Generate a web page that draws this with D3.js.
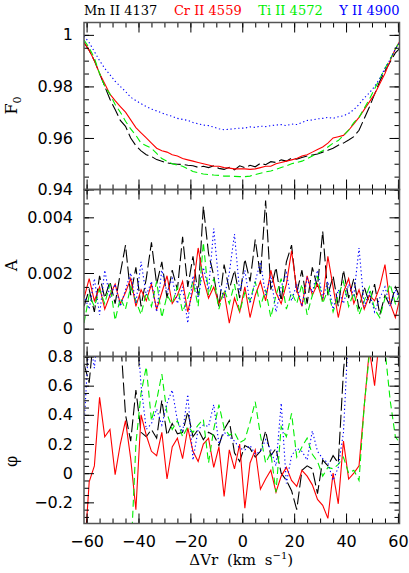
<!DOCTYPE html>
<html>
<head>
<meta charset="utf-8">
<script src="https://cdn.jsdelivr.net/npm/d3@7"></script>
<style>
    body { margin: 0; background: #fff; }
    text { fill: #000; }
</style>
</head>
<body>
<svg id="chart" width="409" height="573"></svg>
<script>
// velocity grid (km/s)
var velocity = [-61, -59, -57, -55, -53, -51, -49, -47, -45, -43, -41, -39, -37, -35, -33, -31, -29, -27, -25, -23,
    -21, -19, -17, -15, -13, -11, -9, -7, -5, -3, -1, 1, 3, 5, 7, 9, 11, 13, 15, 17,
    19, 21, 23, 25, 27, 29, 31, 33, 35, 37, 39, 41, 43, 45, 47, 49, 51, 53, 55, 57, 59, 61];

var lineNames = ["Mn II 4137", "Cr II 4559", "Ti II 4572", "Y II 4900"];

// F0 panel
var f0Mn = [0.997, 0.994, 0.990, 0.985, 0.980, 0.975, 0.971, 0.9668, 0.9645, 0.960,
    0.957, 0.955, 0.9535, 0.9528, 0.9516, 0.951, 0.9503, 0.950, 0.9498, 0.9497,
    0.9494, 0.9492, 0.9486, 0.949, 0.9485, 0.9492, 0.9482, 0.9478, 0.9486, 0.9476,
    0.9492, 0.9485, 0.9494, 0.9488, 0.9502, 0.9496, 0.9508, 0.9505, 0.9515, 0.951,
    0.9522, 0.9518, 0.9524, 0.953, 0.9534, 0.9538, 0.9545, 0.9552, 0.956, 0.9572,
    0.958, 0.9592, 0.9605, 0.963, 0.9675, 0.972, 0.977, 0.982, 0.986, 0.9895,
    0.993, 0.995];
var f0Cr = [0.997, 0.994, 0.990, 0.985, 0.981, 0.977, 0.9745, 0.9722, 0.970, 0.967,
    0.964, 0.962, 0.960, 0.958, 0.956, 0.955, 0.9545, 0.9535, 0.953, 0.952,
    0.9515, 0.951, 0.9505, 0.950, 0.9495, 0.949, 0.949, 0.9485, 0.9483, 0.948,
    0.948, 0.948, 0.9478, 0.948, 0.9485, 0.949, 0.949, 0.950, 0.9505, 0.951,
    0.9515, 0.952, 0.953, 0.9535, 0.9545, 0.9555, 0.9565, 0.958, 0.960, 0.9605,
    0.961, 0.963, 0.9655, 0.968, 0.971, 0.974, 0.977, 0.981, 0.985, 0.990,
    0.9945, 0.998];
var f0Ti = [0.998, 0.995, 0.991, 0.985, 0.980, 0.977, 0.973, 0.970, 0.9665, 0.9635,
    0.961, 0.958, 0.957, 0.956, 0.954, 0.952, 0.951, 0.950, 0.9495, 0.949,
    0.948, 0.947, 0.9465, 0.946, 0.9458, 0.9456, 0.9455, 0.9452, 0.9452, 0.9451,
    0.945, 0.945, 0.9452, 0.9458, 0.9463, 0.9468, 0.9472, 0.9478, 0.9485, 0.9492,
    0.950, 0.9505, 0.951, 0.952, 0.953, 0.954, 0.955, 0.9565, 0.958, 0.959,
    0.961, 0.963, 0.966, 0.968, 0.9715, 0.975, 0.979, 0.983, 0.987, 0.9905,
    0.9945, 0.998];
var f0Y = [0.9995, 0.997, 0.9935, 0.990, 0.987, 0.9845, 0.982, 0.980, 0.978, 0.9758,
    0.9745, 0.9733, 0.9722, 0.9712, 0.9705, 0.9697, 0.969, 0.9684, 0.9676, 0.9672,
    0.9668, 0.966, 0.9655, 0.965, 0.9648, 0.9642, 0.9636, 0.9632, 0.9634, 0.9636,
    0.9638, 0.9638, 0.9643, 0.9641, 0.9646, 0.9644, 0.9648, 0.965, 0.9652, 0.9648,
    0.9654, 0.9652, 0.966, 0.9668, 0.967, 0.9674, 0.9676, 0.968, 0.9676, 0.9682,
    0.9686, 0.9695, 0.971, 0.973, 0.9755, 0.9775, 0.980, 0.983, 0.987, 0.9905,
    0.9945, 0.9975];

// A panel
var ampMn = [0.0008, 0.0014, 0.0006, 0.0019, 0.0011, 0.0017, 0.0009, 0.0020, 0.0030, 0.0012,
    0.0022, 0.0008, 0.0018, 0.0031, 0.0016, 0.0024, 0.0011, 0.0021, 0.0014, 0.0033,
    0.0015, 0.0026, 0.0012, 0.0044, 0.0027, 0.0019, 0.0008, 0.0023, 0.0014, 0.0021,
    0.0011, 0.0025, 0.0017, 0.0032, 0.0019, 0.0046, 0.0014, 0.0022, 0.0010, 0.0024,
    0.0030, 0.0013, 0.0021, 0.0009, 0.0022, 0.0015, 0.0035, 0.0012, 0.0019, 0.0008,
    0.0021, 0.0011, 0.0018, 0.0007, 0.0015, 0.0009, 0.0016, 0.0005, 0.0012, 0.0008,
    0.0015, 0.0011];
var ampCr = [0.0011, 0.0018, 0.0010, 0.0015, 0.0007, 0.0012, 0.0016, 0.0009, 0.0013, 0.0018,
    0.0008, 0.0014, 0.0010, 0.0016, 0.0007, 0.0013, 0.0019, 0.0009, 0.0012, 0.0017,
    0.0006, 0.0014, 0.0029, 0.0018, 0.0011, 0.0015, 0.0009, 0.0013, 0.0002, 0.0011,
    0.0006, 0.0015, 0.0004, 0.0012, 0.0017, 0.0010, 0.0021, 0.0013, 0.0009, 0.0016,
    0.0028, 0.0014, 0.0008, 0.0019, 0.0012, 0.0016, 0.0010, 0.0026, 0.0015, 0.0004,
    0.0013, 0.0018, 0.0009, 0.0014, 0.0007, 0.0012, 0.0010, 0.0015, 0.0023, 0.0009,
    0.0004, 0.0012];
var ampTi = [0.0002, 0.0012, 0.0008, 0.0014, 0.0009, 0.0016, 0.0003, 0.0011, 0.0007, 0.0015,
    0.0010, 0.0005, 0.0013, 0.0008, 0.0017, 0.0004, 0.0012, 0.0009, 0.0015, 0.0006,
    0.0011, 0.0017, 0.0008, 0.0031, 0.0012, 0.0018, 0.0007, 0.0014, 0.0009, 0.0016,
    0.0006, 0.0013, 0.0010, 0.0017, 0.0008, 0.0014, 0.0004, 0.0012, 0.0018, 0.0007,
    0.0013, 0.0009, 0.0016, 0.0005, 0.0012, 0.0019, 0.0009, 0.0014, 0.0006, 0.0012,
    0.0017, 0.0008, 0.0013, 0.0005, 0.0010, 0.0015, 0.0007, 0.0004, 0.0011, 0.0016,
    0.0009, 0.0013];
var ampY = [0.0012, 0.0007, 0.0018, 0.0005, 0.0021, 0.0011, 0.0016, 0.0008, 0.0014, 0.0020,
    0.0009, 0.0024, 0.0012, 0.0017, 0.0006, 0.0021, 0.0013, 0.0018, 0.0009, 0.0015,
    0.0002, 0.0019, 0.0011, 0.0022, 0.0014, 0.0036, 0.0016, 0.0011, 0.0020, 0.0034,
    0.0013, 0.0021, 0.0009, 0.0017, 0.0024, 0.0012, 0.0019, 0.0006, 0.0015, 0.0020,
    0.0010, 0.0016, 0.0008, 0.0018, 0.0013, 0.0021, 0.0011, 0.0017, 0.0007, 0.0014,
    0.0009, 0.0016, 0.0012, 0.0029, 0.0008, 0.0013, 0.0006, 0.0011, 0.0015, 0.0008,
    0.0014, 0.0010];

// phi panel
var phiMn = [0.75, 0.62, 1.0, 1.0, 1.0, 1.0, 1.0, 0.95, 0.40, 0.22,
    0.57, 0.28, 0.25, 0.30, 0.24, 0.50, 0.26, 0.34, 0.27, 0.28,
    0.42, 0.25, 0.30, 0.23, 0.28, 0.26, 0.19, 0.30, 0.36, 0.14,
    0.08, 0.19, 0.17, 0.11, 0.15, 0.29, 0.12, 0.17, 0.00, -0.05,
    -0.12, -0.25, 0.02, 0.05, 0.03, -0.14, 0.09, 0.05, 0.12, 0.07,
    0.70, 1.1, 1.2, 1.2, 1.2, 1.2, 1.2, 1.2, 1.2, 1.2,
    1.2, 1.2];
var phiCr = [-0.6, -0.06, 0.05, 0.52, 0.25, 0.30, -0.01, 0.20, 0.36, 0.10,
    -0.25, 0.40, 0.26, 0.15, 0.12, 0.28, -0.04, 0.18, 0.24, 0.10,
    0.31, 0.15, 0.08, 0.20, 0.24, 0.04, 0.18, -0.16, 0.16, 0.03,
    0.20, -0.24, 0.07, 0.16, -0.11, -0.04, 0.02, -0.13, -0.02, 0.04,
    -0.05, -0.09, 0.02, -0.02, -0.08, -0.18, -0.22, -0.31, 0.00, -0.21,
    0.22, -0.04, 0.00, 0.05, 0.46, 0.85, 0.60, 0.95, 1.2, 1.3,
    1.4, 1.5];
var phiTi = [-1.0, -1.0, -1.0, -1.0, -1.0, -1.0, -1.0, -1.0, -1.0, -0.6,
    0.20, 0.55, 0.73, 0.36, 0.50, 0.68, 0.41, 0.30, 0.36, 0.25,
    0.32, 0.28, 0.33, 0.37, 0.07, 0.30, 0.47, 0.31, 0.26, 0.28,
    0.21, 0.23, 0.35, 0.49, 0.26, 0.07, 0.14, -0.13, 0.32, 0.25,
    0.41, 0.11, 0.18, 0.24, 0.13, 0.08, -0.02, 0.04, 0.03, 0.06,
    0.11, 0.00, 0.02, -0.05, 0.46, 0.82, 0.95, 0.90, 0.85, 0.50,
    0.25, 0.20];
var phiY = [0.32, 0.95, 0.72, 1.1, 1.1, 1.1, 1.1, 1.1, 1.1, 1.1,
    1.1, 0.60, 0.30, 0.34, 0.44, 0.33, 0.48, 0.57, 0.36, 0.28,
    0.54, 0.09, 0.30, 0.33, 0.32, 0.47, 0.20, 0.28, 0.25, 0.22,
    0.17, 0.16, 0.19, 0.13, 0.15, 0.23, 0.16, 0.05, 0.48, -0.07,
    0.12, 0.17, 0.15, 0.09, 0.29, 0.15, 0.10, 0.07, -0.05, 0.04,
    0.28, 1.0, 1.2, 1.2, 1.2, 1.2, 1.2, 1.2, 1.2, 1.2,
    1.2, 1.2];

// tick labels
var velTicks = [-60, -40, -20, 0, 20, 40, 60];
var f0Ticks = [0.94, 0.96, 0.98, 1];
var ampTicks = [0, 0.002, 0.004];
var phiTicks = [-0.2, 0, 0.2, 0.4, 0.6, 0.8];

(function () {
    var svg = d3.select("#chart");
    var margin = {left: 84, right: 9.5, top: 22.5, bottom: 49.5};
    var W = 409, H = 573;
    var plotW = W - margin.left - margin.right;
    var panelH = (H - margin.top - margin.bottom) / 3;

    var styles = [
        {color: "#000000", dash: "13,4"},
        {color: "#ff0000", dash: null},
        {color: "#00ee00", dash: "7,4"},
        {color: "#0000ff", dash: "1.3,2.6"}
    ];

    var x = d3.scaleLinear().domain([-61, 60.6]).range([0, plotW]);

    var panels = [
        {series: [f0Mn, f0Cr, f0Ti, f0Y], domain: [0.94, 1.0048], ticks: f0Ticks, minor: 0.005,
            fmt: d3.format("~g"), label: "F", sub: "0", labelY: 83},
        {series: [ampMn, ampCr, ampTi, ampY], domain: [-0.001, 0.005], ticks: ampTicks, minor: 0.0005,
            fmt: function (d) { return d === 0 ? "0" : d3.format(".3f")(d); }, label: "A", labelY: 76},
        {series: [phiMn, phiCr, phiTi, phiY], domain: [-0.345, 0.8], ticks: phiTicks, minor: 0.05,
            fmt: function (d) { return d === 0 ? "0" : d3.format(".1f")(d).replace("-", "\u2212"); }, label: "\u03c6", labelY: 105}
    ];

    var minorX = d3.range(-60, 61, 5);

    panels.forEach(function (p, i) {
        var top = margin.top + i * panelH;
        var g = svg.append("g").attr("transform", "translate(" + margin.left + "," + top + ")");
        var y = d3.scaleLinear().domain(p.domain).range([panelH, 0]);

        var lo = Math.ceil(p.domain[0] / p.minor - 1e-6), hi = Math.floor(p.domain[1] / p.minor + 1e-6);
        var minorY = d3.range(lo, hi + 1).map(function (k) { return +(k * p.minor).toFixed(6); });

        var clipId = "clip" + i;
        g.append("clipPath").attr("id", clipId).append("rect")
            .attr("width", plotW).attr("height", panelH);

        var line = d3.line()
            .x(function (d, j) { return x(velocity[j]); })
            .y(function (d) { return y(d); });

        var lg = g.append("g").attr("clip-path", "url(#" + clipId + ")");
        p.series.forEach(function (s, k) {
            lg.append("path")
                .datum(s)
                .attr("d", line)
                .attr("fill", "none")
                .attr("stroke", styles[k].color)
                .attr("stroke-width", 1.1)
                .attr("stroke-dasharray", styles[k].dash);
        });

        // ticks on all four sides, pointing inward
        function axes(sel, axis) {
            sel.call(axis);
            sel.select(".domain").remove();
            sel.selectAll(".tick line").attr("stroke", "#000");
        }
        axes(g.append("g"), d3.axisLeft(y).tickValues(minorY).tickSize(-5).tickFormat(""));
        axes(g.append("g").attr("transform", "translate(" + plotW + ",0)"),
            d3.axisRight(y).tickValues(minorY).tickSize(-5).tickFormat(""));
        axes(g.append("g"), d3.axisTop(x).tickValues(minorX).tickSize(-5).tickFormat(""));
        axes(g.append("g").attr("transform", "translate(0," + panelH + ")"),
            d3.axisBottom(x).tickValues(minorX).tickSize(-5).tickFormat(""));

        var yl = g.append("g");
        axes(yl, d3.axisLeft(y).tickValues(p.ticks).tickSize(-10).tickPadding(11).tickFormat(p.fmt));
        yl.selectAll("text").attr("font-family", "DejaVu Sans").attr("font-size", 16).attr("fill", "#000");
        axes(g.append("g").attr("transform", "translate(" + plotW + ",0)"),
            d3.axisRight(y).tickValues(p.ticks).tickSize(-10).tickFormat(""));
        axes(g.append("g"), d3.axisTop(x).tickValues(velTicks).tickSize(-10).tickFormat(""));
        var xb = g.append("g").attr("transform", "translate(0," + panelH + ")");
        axes(xb, d3.axisBottom(x).tickValues(velTicks).tickSize(-10).tickPadding(12)
            .tickFormat(i === 2 ? function (d) { return String(d).replace("-", "\u2212"); } : ""));
        xb.selectAll("text").attr("font-family", "DejaVu Sans").attr("font-size", 16).attr("fill", "#000");

        g.append("rect")
            .attr("width", plotW).attr("height", panelH)
            .attr("fill", "none").attr("stroke", "#555").attr("stroke-width", 1.5);

        var t = svg.append("text")
            .attr("transform", "translate(17," + (top + p.labelY) + ") rotate(-90)")
            .attr("text-anchor", "middle")
            .attr("font-family", "DejaVu Serif").attr("font-size", 16)
            .text(p.label);
        if (p.sub) t.append("tspan").attr("font-size", 11).attr("dy", 4).text(p.sub);
    });

    // x-axis title
    var xt = svg.append("text")
        .attr("x", margin.left + plotW / 2 - 0.5).attr("y", H - 8)
        .attr("text-anchor", "middle")
        .attr("font-family", "DejaVu Serif").attr("font-size", 15)
        .attr("word-spacing", 4);
    xt.append("tspan").text("\u0394Vr (km s");
    xt.append("tspan").attr("font-size", 10).attr("dy", -6).text("\u22121");
    xt.append("tspan").attr("dy", 6).text(")");

    // legend across the top
    var leg = svg.append("g");
    var items = lineNames.map(function (n, k) {
        return leg.append("text")
            .attr("y", 15)
            .attr("font-family", "DejaVu Serif").attr("font-size", 13)
            .style("fill", styles[k].color)
            .text(n);
    });
    var widths = items.map(function (t) { return t.node().getComputedTextLength(); });
    var gap = (plotW - d3.sum(widths)) / (items.length - 1);
    var cx = margin.left;
    items.forEach(function (t, k) {
        t.attr("x", cx);
        cx += widths[k] + gap;
    });
})();
</script>
</body>
</html>
